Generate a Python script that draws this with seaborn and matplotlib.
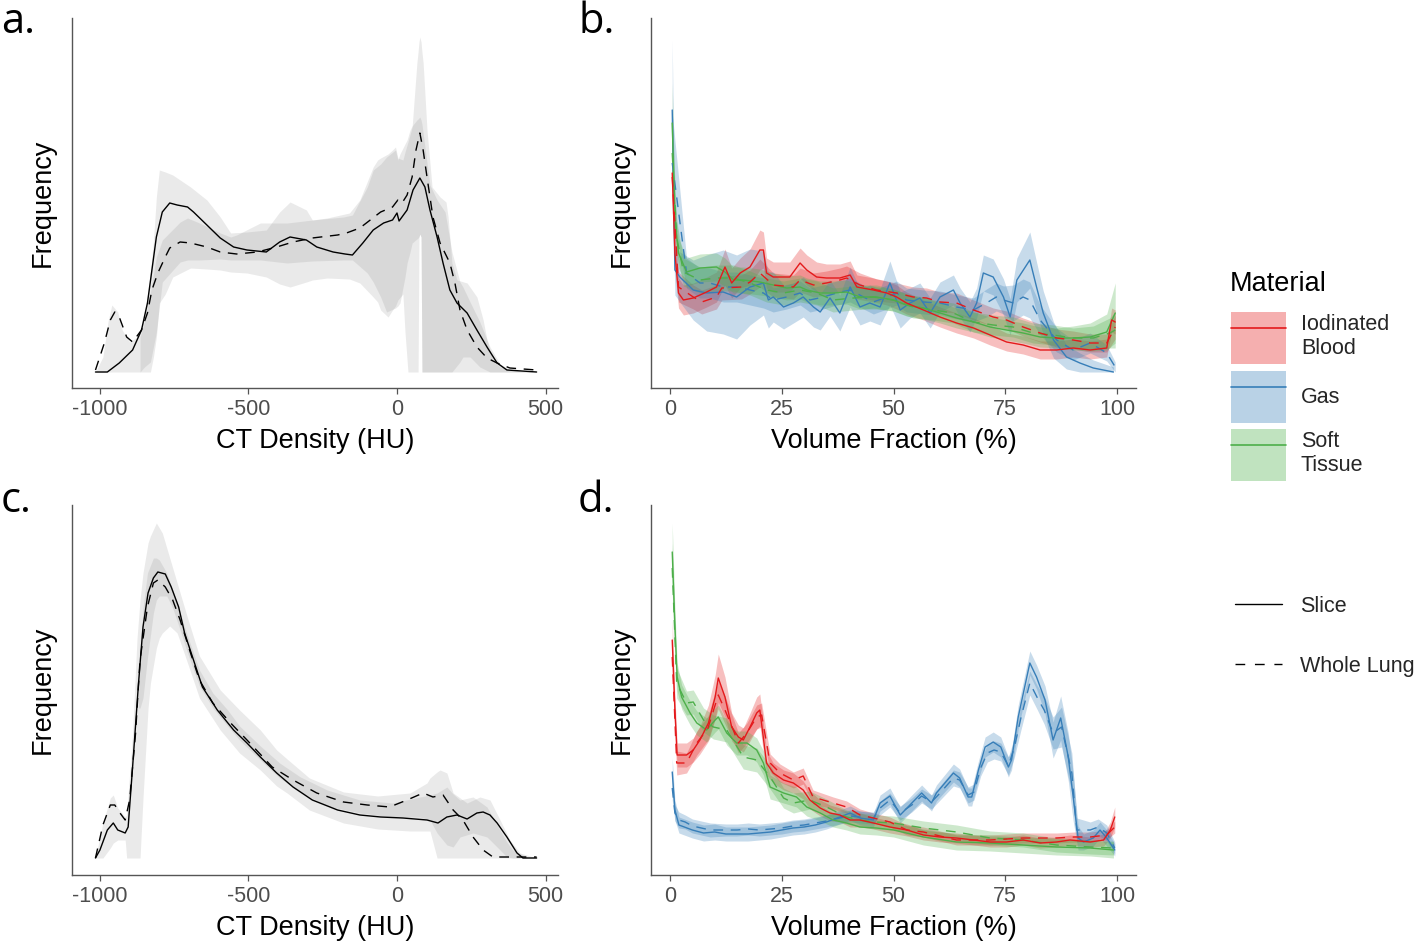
import numpy as np
import matplotlib
matplotlib.use("Agg")
import matplotlib.pyplot as plt
import seaborn as sns
from matplotlib.patches import Patch
from matplotlib.lines import Line2D

# ---------------- data ----------------
# Panel a : CT density histogram (slice vs whole lung), arbitrary frequency units
a_slice_x = [-1015,-975,-935,-890,-860,-840,-825,-810,-790,-765,-740,-705,-685,-640,-595,-550,-505,-440,-395,-360,-305,-270,-215,-175,-150,-115,-80,-45,-15,0,7,34,54,77,94,111,135,155,178,202,236,269,303,337,370,470]
a_slice_y = [0,0,9,22,42,69,102,135,160,169,167,165,160,147,134,125,122,120,130,135,132,125,120,118,117,129,142,149,152,159,151,162,182,194,185,162,135,109,82,69,59,42,25,9,2,0]
a_whole_x = [-1015,-985,-965,-950,-935,-910,-890,-860,-840,-825,-805,-780,-765,-730,-695,-640,-595,-540,-470,-405,-350,-285,-200,-170,-125,-55,-15,3,17,34,51,64,77,88,101,121,145,178,195,212,236,269,303,337,380,470]
a_whole_y = [2,29,52,60,55,35,30,42,59,82,99,115,124,130,129,125,120,118,120,125,130,134,137,139,144,160,165,172,169,177,195,222,239,222,195,155,129,109,89,62,42,25,14,9,4,2]
a_band_slice_x = [-1015,-990,-973,-960,-940,-925,-900,-875,-855,-838,-830,-820,-810,-800,-780,-755,-695,-640,-595,-560,-505,-440,-395,-360,-305,-285,-235,-160,-125,-80,-65,-55,-30,-15,-5,3,20,27,37,51,67,71,74,77,81,84,88,101,118,145,165,172,185,202,236,269,290,303,323,347,380,470]
a_band_slice_hi = [0,15,50,67,60,42,30,35,50,80,100,130,175,202,200,197,185,172,155,139,140,142,160,170,162,152,154,159,172,205,212,214,218,222,225,214,212,220,230,245,309,320,330,335,330,320,309,242,185,175,170,155,109,92,89,75,52,32,12,5,2,0]
a_band_slice_lo = [0,0,0,0,0,0,0,0,0,0,0,15,35,69,78,95,104,103,102,100,99,95,88,85,90,92,94,93,89,75,70,62,55,62,66,72,78,40,0,0,0,0,135,138,135,0,0,0,0,0,0,0,0,0,0,0,0,0,0,0,0,0]
a_band_whole_x = [-865,-850,-830,-810,-790,-730,-705,-665,-595,-560,-540,-460,-370,-285,-180,-150,-100,-80,-55,-35,-5,3,10,27,34,44,51,67,71,74,77,81,84,94,111,135,162,185,212,222,246,279,313,347,380,470]
a_band_whole_hi = [35,50,80,115,132,150,154,149,139,135,137,149,149,152,155,157,185,202,208,215,222,212,218,228,232,242,246,252,253,254,255,252,248,225,187,172,160,120,90,85,70,50,25,8,2,0]
a_band_whole_lo = [0,5,10,40,90,110,112,112,113,112,112,112,109,111,112,112,99,90,75,60,64,66,69,95,109,120,129,133,134,135,138,135,0,0,0,0,0,0,10,15,15,5,0,0,0,0]

# Panel c
c_slice_x = [-1015,-1000,-975,-955,-940,-915,-905,-890,-870,-855,-838,-820,-805,-780,-760,-735,-715,-685,-655,-605,-550,-505,-460,-405,-350,-285,-200,-125,-55,20,101,138,168,202,236,269,290,313,337,370,404,424,470]
c_slice_y = [0,8,28,35,28,25,31,91,175,231,265,280,286,284,271,251,225,198,171,148,128,115,101,85,71,58,48,43,41,40,38,35,41,43,39,45,46,43,35,21,5,0,0]
c_whole_x = [-1015,-990,-965,-950,-935,-915,-900,-880,-865,-840,-820,-805,-780,-755,-730,-695,-665,-620,-560,-505,-420,-350,-270,-180,-100,-25,34,88,121,155,189,222,256,290,323,470]
c_whole_y = [0,33,53,53,46,38,58,125,198,251,275,278,271,258,238,205,178,155,135,118,91,78,65,56,53,51,58,65,61,63,48,38,21,8,1,1]
c_band_slice_x = [-1015,-990,-965,-955,-940,-915,-910,-890,-875,-865,-855,-838,-830,-810,-800,-790,-765,-740,-705,-665,-595,-530,-460,-405,-370,-295,-180,-65,44,101,111,135,145,168,189,236,279,313,347,380,414,470]
c_band_slice_hi = [0,35,60,63,50,41,43,125,220,258,285,315,322,335,330,325,300,275,240,202,168,148,128,108,99,80,66,62,65,75,80,86,88,85,65,55,61,58,38,18,5,0]
c_band_slice_lo = [0,0,10,15,18,18,0,0,0,0,60,150,175,210,220,225,232,225,195,160,128,105,88,72,65,48,35,29,27,27,27,0,0,0,0,0,0,0,0,0,0,0]
c_band_whole_x = [-870,-865,-855,-840,-820,-810,-800,-775,-755,-730,-705,-685,-665,-620,-570,-530,-460,-395,-325,-235,-125,-15,77,111,135,168,189,212,256,303,337,370,390,438]
c_band_whole_hi = [160,200,250,285,300,300,298,285,268,245,222,205,188,165,148,132,112,95,81,68,58,55,61,63,65,71,64,58,61,51,33,16,8,1]
c_band_whole_lo = [150,150,160,200,245,258,262,262,250,228,205,188,172,150,132,118,98,80,66,52,45,41,41,38,25,13,11,21,25,21,11,1,0,0]

# Panel b : volume fraction histograms (mean and sd per material)
b_blood_slice_x = [0.5,1.1,1.9,3,5.2,8.2,10.4,12.3,13.8,15.7,17.9,20.1,20.9,21.6,23.1,26.8,29.1,30.6,32.8,35,38,40.3,41.8,45.5,48.5,50.7,52.9,56.7,60.4,64.1,67.9,71.6,75.3,79,82.8,86.5,90.2,94,97.7,98.8,99.6]
b_blood_slice_y = [199,119,79,72,74,80,85,105,89,99,105,122,122,99,95,95,109,102,95,94,94,97,85,82,79,75,69,62,55,49,44,37,30,27,22,22,24,22,24,52,50]
b_blood_slice_sd = [30,18,15,15,15,15,15,18,15,15,18,20,18,15,15,15,15,15,15,14,14,14,12,12,12,12,11,10,10,10,10,10,9,9,9,9,9,9,9,12,12]
b_blood_whole_x = [0.5,1.9,5.2,7.1,10.4,11.6,16,17.9,20.1,23.1,27.6,29.1,32.1,35,38,39.5,42.5,46.2,50.7,54.4,57.4,60.4,64.1,67.9,72.3,75.3,79,82.8,86.5,90.2,94,97.7,99.6]
b_blood_whole_y = [195,85,75,70,75,84,85,90,99,87,85,92,87,89,92,94,87,82,79,75,74,70,69,62,55,52,45,39,34,32,29,29,45]
b_blood_whole_sd = [25,15,12,12,12,12,12,12,14,12,12,12,12,12,12,12,12,11,10,10,10,10,10,10,9,9,9,9,9,9,9,9,12]
b_gas_slice_x = [0.5,1.1,2.2,5.2,8.2,11.9,14.9,17.9,20.9,22,23.1,25.4,27.6,29.8,32.1,33.6,35.8,38,40.3,42.5,44.7,47,49.2,51.5,53.7,55.9,58.2,60.4,63.4,64.9,67.1,68.6,70.1,72.3,74.6,76.1,77.6,80.5,82,83.5,85.8,88.7,91.7,94.7,99.2]
b_gas_slice_y = [262,102,95,82,79,80,75,85,89,72,75,65,69,75,65,60,74,59,85,65,69,65,89,62,69,74,59,75,82,69,55,69,99,95,75,55,92,112,85,59,32,15,9,4,0]
b_gas_slice_sd = [70,25,25,30,38,42,42,38,32,28,25,22,20,20,20,18,18,18,20,18,18,18,22,18,15,15,15,15,15,15,15,15,18,18,18,18,22,28,25,22,18,12,10,8,5]
b_gas_whole_x = [0.5,3.7,6.7,8.9,11.9,14.9,17.9,20.9,23.1,26.1,29.1,31.3,34.3,37.3,40.3,43.3,45.5,48.5,50.7,52.9,56.7,60.4,64.1,67.9,70.8,73,74.6,76.8,79,80.5,82.8,86.5,90.2,94,97.7,99.6]
b_gas_whole_y = [209,99,89,89,85,85,82,79,72,75,79,72,75,79,82,75,70,75,79,72,70,69,65,62,69,75,72,69,75,72,52,32,22,29,19,5]
b_gas_whole_sd = [50,15,15,15,15,15,15,15,12,12,12,12,12,12,12,12,12,12,12,12,12,12,12,12,14,14,14,18,18,18,15,12,10,10,8,5]
b_tissue_slice_x = [0.5,1.1,1.9,3.7,6.7,10.4,12.3,14.2,16.4,20.1,23.1,26.1,29.1,30.6,33.6,36.5,39.5,42.5,46.2,50,52.9,56.7,60.4,64.1,67.9,71.6,75.3,79,82.8,86.5,90.2,94,97.7,99.6]
b_tissue_slice_y = [249,152,119,100,104,105,100,92,92,90,87,84,85,82,79,79,80,75,75,72,67,64,59,54,50,45,42,39,35,34,34,35,40,59]
b_tissue_slice_sd = [40,18,15,14,14,14,14,13,13,13,12,12,12,12,12,12,12,12,12,11,11,11,10,10,10,10,10,10,10,10,12,14,18,30]
b_tissue_whole_x = [0.5,1.5,3,6.7,10.4,14.2,17.9,21.6,25.4,29.1,32.8,36.5,41,45.5,50,54.4,58.9,63.4,67.9,72.3,76.8,81.2,85.8,90.2,94.7,98.4,99.6]
b_tissue_whole_y = [219,135,100,92,94,94,89,82,79,82,79,72,74,75,72,65,62,59,50,47,45,39,37,34,34,39,42]
b_tissue_whole_sd = [30,16,14,13,13,13,12,12,12,12,12,12,12,11,11,11,10,10,10,10,10,10,10,10,12,15,18]

# Panel d
d_blood_slice_x = [0.5,1.1,1.6,3.7,5.2,6.7,8.6,10.1,10.8,12.3,13.8,15.3,16.4,17.9,19.4,20.1,21.6,23.1,25.4,27.6,29.8,31.3,33.6,35.8,38,40.3,42.5,45.5,49.2,53,56.7,60.4,64.1,67.9,71.6,75.3,79,82.8,86.5,89.5,94,97,98.5,99.5]
d_blood_slice_y = [218,148,103,103,108,118,135,161,180,161,131,121,118,131,145,148,95,85,78,75,68,58,50,45,43,38,38,35,31,28,23,21,20,18,16,16,18,15,16,18,16,18,28,41]
d_blood_slice_sd = [20,15,12,12,12,14,18,22,24,20,14,12,12,14,16,16,12,10,10,10,9,9,8,8,7,7,7,6,6,6,5,5,5,5,5,5,5,5,5,5,5,6,8,10]
d_blood_whole_x = [0.5,1.5,3.7,6,8.5,10.8,12.3,13.8,15.3,17.2,19.4,20.5,21.6,22.4,24.6,27.6,29.8,32,36.5,39.5,42.5,45.5,49.2,53,56.7,64.1,71.6,79,86.5,90.5,94,97.7,99.5]
d_blood_whole_y = [201,95,95,115,130,163,148,132,115,125,141,143,115,95,85,78,82,61,55,51,43,40,36,28,26,18,18,20,20,21,21,23,31]
d_blood_whole_sd = [18,12,10,12,12,14,14,12,10,10,12,12,10,9,9,8,8,7,6,6,6,5,5,5,5,5,5,5,5,5,5,5,6]
d_gas_slice_x = [0.5,1.1,2,5,7.5,10,12.5,15,17.5,20,22.5,25,27.5,30,32.5,35,38,40.3,42.5,45.5,47,49.2,51.5,54.1,56.3,58.5,59.6,63.4,64.8,66.7,67.5,69,70.5,72.3,74,75.7,76.4,77.9,80.5,82,83.9,85.7,87.4,89.1,90.2,91.3,92.5,94.7,96.2,97.7,99.5]
d_gas_slice_y = [86,48,33,28,25,26,24,24,24,25,26,28,30,31,33,36,41,45,40,38,55,62,43,55,65,55,65,85,80,61,61,88,111,116,111,91,98,141,195,181,158,118,140,101,61,20,16,20,28,20,8]
d_gas_slice_sd = [14,10,8,8,8,8,7,7,7,7,7,7,7,7,7,7,7,7,7,7,8,8,8,8,8,8,8,9,9,9,9,9,10,10,10,10,10,12,12,12,14,18,22,24,24,12,8,8,8,8,6]
d_gas_whole_x = [0.5,1.1,2,3.4,5,9,12.5,15,17.5,20,22.5,25,27.5,30,32.5,35,38,40.3,42.5,45.5,47,49.2,51.5,54.1,56.3,58.5,60,63.4,64.8,66.7,68,69.5,71,72.5,74,75.7,77,78.5,80.5,82.2,83.7,85.7,87.6,89.9,91,94,95.8,97.7,99.5]
d_gas_whole_y = [70,45,38,36,32,28,28,28,29,28,29,30,32,33,35,37,40,42,41,40,50,58,45,53,62,56,63,80,78,63,66,90,105,108,106,92,110,140,175,160,148,125,131,85,28,28,31,25,10]
d_gas_whole_sd = [12,8,8,7,7,7,6,6,6,6,6,6,6,6,6,6,6,6,6,6,7,7,7,7,7,7,7,8,8,8,8,8,9,9,9,9,10,12,12,12,14,16,20,20,12,8,8,8,6]
d_tissue_slice_x = [0.5,1.1,1.6,2.6,4.5,6,8.2,10.1,10.8,12.7,14.9,17.2,19.4,20.9,22.4,25.4,28.3,30.6,33.6,36.5,39.5,42.5,46.2,50,56.7,64.1,71.6,79,86.5,94,99.2]
d_tissue_slice_y = [306,231,181,161,145,135,128,138,141,125,115,115,108,95,71,65,61,51,45,38,35,31,30,28,21,16,15,13,11,10,8]
d_tissue_slice_sd = [29,18,14,12,12,12,12,12,12,12,12,12,12,12,12,10,10,9,8,7,7,7,7,7,8,8,8,8,8,8,8]
d_tissue_whole_x = [0.5,1.5,3.7,5.2,7.5,9.7,12.7,16.4,19.4,22.4,25.4,27.6,31.3,35,39.5,42.5,46,50,56.7,64.1,71.6,79,86.5,94,99.2]
d_tissue_whole_y = [290,175,155,156,138,131,128,101,98,81,60,55,58,51,41,38,36,35,30,26,20,18,13,11,10]
d_tissue_whole_sd = [25,15,12,12,12,12,12,12,12,12,10,10,9,8,7,7,7,7,7,7,7,7,7,7,7]

materials = ["Iodinated\nBlood", "Gas", "Soft\nTissue"]
material_colors = ["#E41A1C", "#377EB8", "#4DAF4A"]
line_types = ["Slice", "Whole Lung"]
hu_ticks = [-1000, -500, 0, 500]
hu_tick_labels = ["-1000", "-500", "0", "500"]
vf_ticks = [0, 25, 50, 75, 100]
vf_tick_labels = ["0", "25", "50", "75", "100"]

# ---------------- style ----------------
sns.set_theme(style="white")
plt.rcParams["font.family"] = ["Liberation Sans", "DejaVu Sans"]
AX_COL = "#555555"
DASH = (0, (7, 5.5))

fig = plt.figure(figsize=(14.18, 9.44), dpi=100)
W, H = 1418.0, 944.0


def add_ax(l, t, r, b):
    return fig.add_axes([l / W, 1 - b / H, (r - l) / W, (b - t) / H])


ax_a = add_ax(72, 18, 558, 388)
ax_b = add_ax(651, 18, 1136, 388)
ax_c = add_ax(72, 505, 558, 875)
ax_d = add_ax(651, 505, 1136, 875)


def style(ax, ticks, labels, xlim, ylim, xlabel):
    ax.set_xlim(xlim)
    ax.set_ylim(ylim)
    ax.set_xticks(ticks)
    ax.set_xticklabels(labels)
    ax.set_yticks([])
    sns.despine(ax=ax)
    for s in ["left", "bottom"]:
        ax.spines[s].set_color(AX_COL)
        ax.spines[s].set_linewidth(1.0)
    ax.tick_params(axis="x", bottom=True, length=4, width=0.9, color=AX_COL,
                   labelsize=15.5, labelcolor="#4d4d4d", pad=4)
    ax.set_xlabel(xlabel, fontsize=19.5, color="black", labelpad=6)
    ax.set_ylabel("Frequency", fontsize=19.5, color="black", labelpad=12)
    ax.set_facecolor("white")


def gray_panel(ax, sx, sy, wx, wy, bsx, bslo, bshi, bwx, bwlo, bwhi):
    ax.fill_between(bsx, bslo, bshi, color="#7f7f7f", alpha=0.16, lw=0)
    ax.fill_between(bwx, bwlo, bwhi, color="#7f7f7f", alpha=0.16, lw=0)
    sns.lineplot(x=sx, y=sy, ax=ax, color="black", lw=1.0, estimator=None,
                 sort=False, legend=False)
    sns.lineplot(x=wx, y=wy, ax=ax, color="black", lw=1.0, estimator=None,
                 sort=False, legend=False, linestyle=DASH)


gray_panel(ax_a, a_slice_x, a_slice_y, a_whole_x, a_whole_y,
           a_band_slice_x, a_band_slice_lo, a_band_slice_hi,
           a_band_whole_x, a_band_whole_lo, a_band_whole_hi)
gray_panel(ax_c, c_slice_x, c_slice_y, c_whole_x, c_whole_y,
           c_band_slice_x, c_band_slice_lo, c_band_slice_hi,
           c_band_whole_x, c_band_whole_lo, c_band_whole_hi)


def material_panel(ax, series):
    # series: list of (x, mean, sd, color, linetype)
    for x, y, sd, col, lt in series:
        y = np.asarray(y, float)
        sd = np.asarray(sd, float)
        ax.fill_between(x, np.clip(y - sd, 0, None), y + sd, color=col,
                        alpha=0.28, lw=0)
    order = [2, 3, 4, 5, 0, 1]
    for i in order:
        x, y, sd, col, lt = series[i]
        sns.lineplot(x=x, y=y, ax=ax, color=col, lw=1.0, estimator=None,
                     sort=False, legend=False,
                     linestyle="-" if lt == "Slice" else DASH)


material_panel(ax_b, [
    (b_blood_slice_x, b_blood_slice_y, b_blood_slice_sd, material_colors[0], "Slice"),
    (b_blood_whole_x, b_blood_whole_y, b_blood_whole_sd, material_colors[0], "Whole Lung"),
    (b_gas_slice_x, b_gas_slice_y, b_gas_slice_sd, material_colors[1], "Slice"),
    (b_gas_whole_x, b_gas_whole_y, b_gas_whole_sd, material_colors[1], "Whole Lung"),
    (b_tissue_slice_x, b_tissue_slice_y, b_tissue_slice_sd, material_colors[2], "Slice"),
    (b_tissue_whole_x, b_tissue_whole_y, b_tissue_whole_sd, material_colors[2], "Whole Lung"),
])
material_panel(ax_d, [
    (d_blood_slice_x, d_blood_slice_y, d_blood_slice_sd, material_colors[0], "Slice"),
    (d_blood_whole_x, d_blood_whole_y, d_blood_whole_sd, material_colors[0], "Whole Lung"),
    (d_gas_slice_x, d_gas_slice_y, d_gas_slice_sd, material_colors[1], "Slice"),
    (d_gas_whole_x, d_gas_whole_y, d_gas_whole_sd, material_colors[1], "Whole Lung"),
    (d_tissue_slice_x, d_tissue_slice_y, d_tissue_slice_sd, material_colors[2], "Slice"),
    (d_tissue_whole_x, d_tissue_whole_y, d_tissue_whole_sd, material_colors[2], "Whole Lung"),
])

style(ax_a, hu_ticks, hu_tick_labels, (-1094, 542), (-16, 354), "CT Density (HU)")
style(ax_c, hu_ticks, hu_tick_labels, (-1094, 542), (-17, 353), "CT Density (HU)")
style(ax_b, vf_ticks, vf_tick_labels, (-4.25, 104.25), (-16, 354), "Volume Fraction (%)")
style(ax_d, vf_ticks, vf_tick_labels, (-4.25, 104.25), (-17, 353), "Volume Fraction (%)")

# panel letters
for lab, px, py in [("a.", 1, 33), ("b.", 578, 33), ("c.", 1, 512), ("d.", 578, 512)]:
    fig.text(px / W, 1 - py / H, lab, fontsize=30, va="baseline", ha="left",
             family=["Open Sans", "DejaVu Sans"], color="black")

# legends
fig.text(1230 / W, 1 - 284 / H, "Material", fontsize=19.5, ha="left",
         va="center", color="black")
mat_handles = [(Patch(facecolor=c, alpha=0.35, edgecolor="none"),
                Line2D([], [], color=c, lw=1.2)) for c in material_colors]
leg1 = fig.legend(mat_handles, materials, loc="upper left",
                  bbox_to_anchor=(1231 / W, 1 - 312 / H), frameon=False,
                  fontsize=15.5, handlelength=2.55,
                  handleheight=3.35, handletextpad=0.7, labelspacing=0.3,
                  borderpad=0, borderaxespad=0)
lt_handles = [Line2D([], [], color="black", lw=1.0),
              Line2D([], [], color="black", lw=1.0, linestyle=(0, (7, 7)))]
leg2 = fig.legend(lt_handles, line_types, loc="upper left",
                  bbox_to_anchor=(1235 / W, 1 - 596 / H), frameon=False,
                  fontsize=15.5, handlelength=2.2, handletextpad=0.8,
                  labelspacing=1.8, borderpad=0, borderaxespad=0)

fig.savefig("out.png", dpi=100, facecolor="white")
